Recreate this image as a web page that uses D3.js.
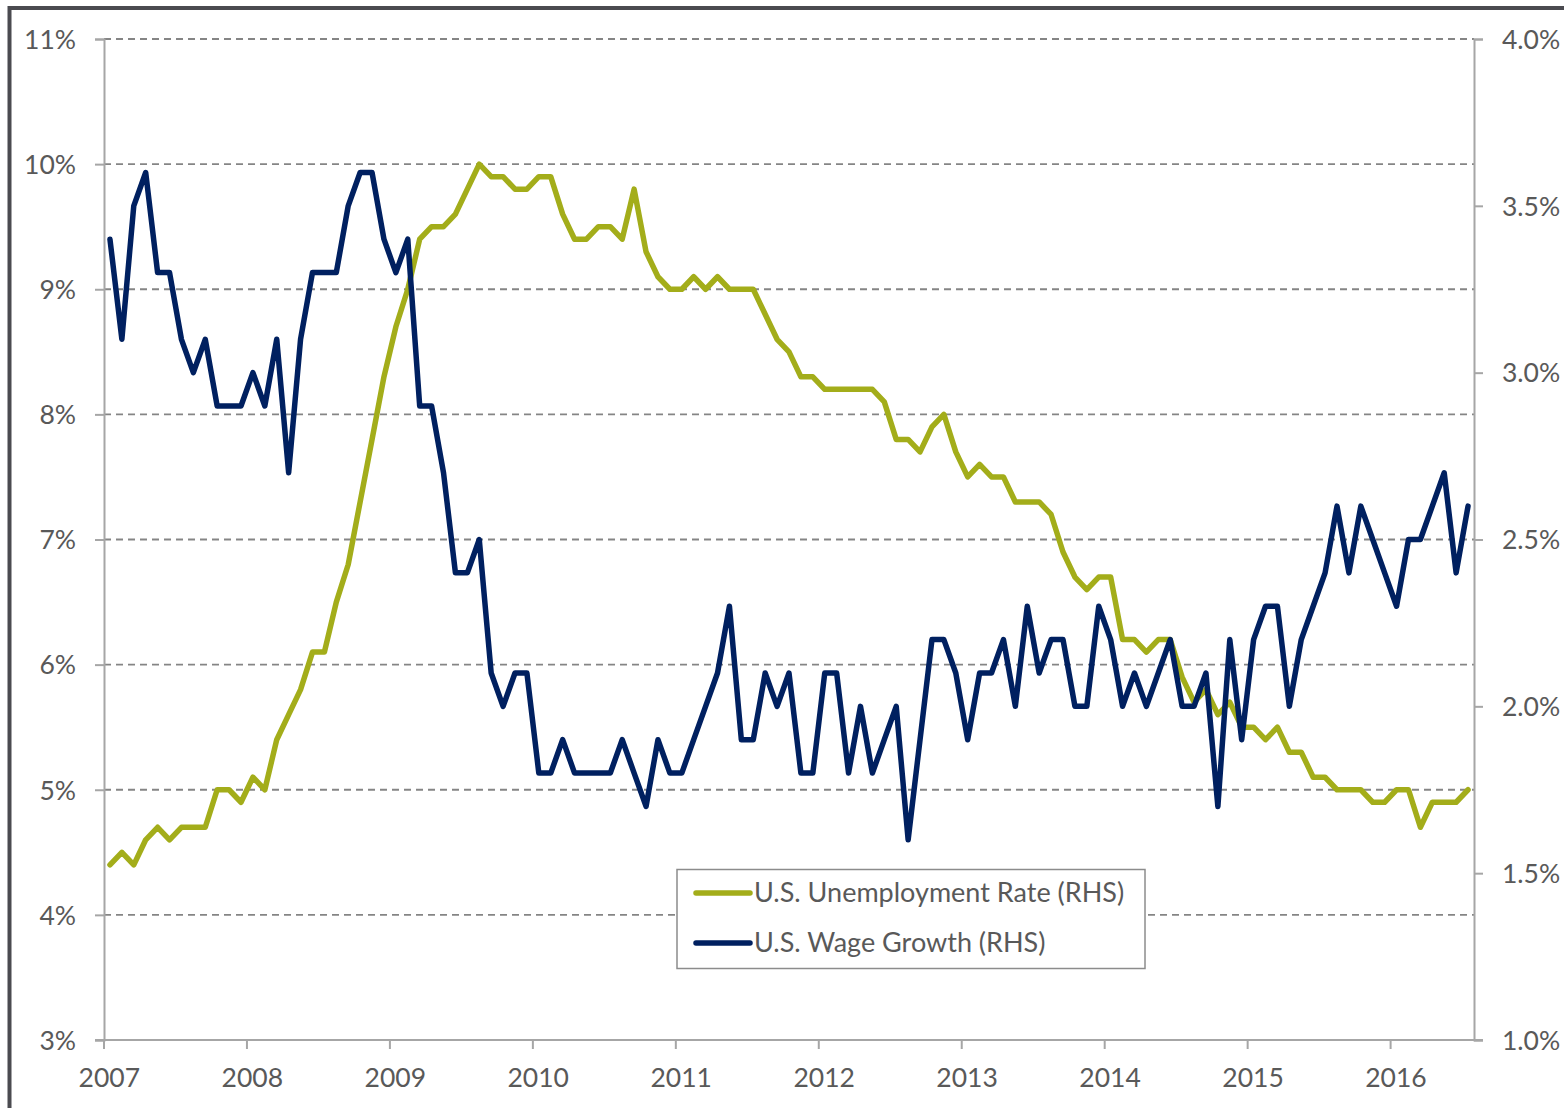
<!DOCTYPE html>
<html>
<head>
<meta charset="utf-8">
<script src="https://cdn.jsdelivr.net/npm/d3@7"></script>
<style>
  body { margin: 0; background: #fff; }
  svg { display: block; }
  text { font-family: Lato, "Open Sans", sans-serif; fill: #595959; }
</style>
</head>
<body>
<svg width="1564" height="1108"></svg>
<script>
// year labels under the x axis, one every 12 months
const years = ['2007', '2008', '2009', '2010', '2011', '2012', '2013', '2014', '2015', '2016']

// monthly series, 115 points each
const unemployment = [
  4.4, 4.5, 4.4, 4.6, 4.7, 4.6, 4.7, 4.7, 4.7, 5.0, 5.0, 4.9,
  5.1, 5.0, 5.4, 5.6, 5.8, 6.1, 6.1, 6.5, 6.8, 7.3, 7.8, 8.3,
  8.7, 9.0, 9.4, 9.5, 9.5, 9.6, 9.8, 10.0, 9.9, 9.9, 9.8, 9.8,
  9.9, 9.9, 9.6, 9.4, 9.4, 9.5, 9.5, 9.4, 9.8, 9.3, 9.1, 9.0,
  9.0, 9.1, 9.0, 9.1, 9.0, 9.0, 9.0, 8.8, 8.6, 8.5, 8.3, 8.3,
  8.2, 8.2, 8.2, 8.2, 8.2, 8.1, 7.8, 7.8, 7.7, 7.9, 8.0, 7.7,
  7.5, 7.6, 7.5, 7.5, 7.3, 7.3, 7.3, 7.2, 6.9, 6.7, 6.6, 6.7,
  6.7, 6.2, 6.2, 6.1, 6.2, 6.2, 5.9, 5.7, 5.8, 5.6, 5.7, 5.5,
  5.5, 5.4, 5.5, 5.3, 5.3, 5.1, 5.1, 5.0, 5.0, 5.0, 4.9, 4.9,
  5.0, 5.0, 4.7, 4.9, 4.9, 4.9, 5.0
]
const wageGrowth = [
  3.4, 3.1, 3.5, 3.6, 3.3, 3.3, 3.1, 3.0, 3.1, 2.9, 2.9, 2.9,
  3.0, 2.9, 3.1, 2.7, 3.1, 3.3, 3.3, 3.3, 3.5, 3.6, 3.6, 3.4,
  3.3, 3.4, 2.9, 2.9, 2.7, 2.4, 2.4, 2.5, 2.1, 2.0, 2.1, 2.1,
  1.8, 1.8, 1.9, 1.8, 1.8, 1.8, 1.8, 1.9, 1.8, 1.7, 1.9, 1.8,
  1.8, 1.9, 2.0, 2.1, 2.3, 1.9, 1.9, 2.1, 2.0, 2.1, 1.8, 1.8,
  2.1, 2.1, 1.8, 2.0, 1.8, 1.9, 2.0, 1.6, 1.9, 2.2, 2.2, 2.1,
  1.9, 2.1, 2.1, 2.2, 2.0, 2.3, 2.1, 2.2, 2.2, 2.0, 2.0, 2.3,
  2.2, 2.0, 2.1, 2.0, 2.1, 2.2, 2.0, 2.0, 2.1, 1.7, 2.2, 1.9,
  2.2, 2.3, 2.3, 2.0, 2.2, 2.3, 2.4, 2.6, 2.4, 2.6, 2.5, 2.4,
  2.3, 2.5, 2.5, 2.6, 2.7, 2.4, 2.6
]

// axis ticks
const leftTicks = [3, 4, 5, 6, 7, 8, 9, 10, 11]
const rightTicks = [1.0, 1.5, 2.0, 2.5, 3.0, 3.5, 4.0]

const legendItems = [
  { name: 'U.S. Unemployment Rate (RHS)', color: '#a3ad1a' },
  { name: 'U.S. Wage Growth (RHS)', color: '#002060' }
]

// plot box
const plotLeft = 104, plotRight = 1474, plotTop = 39, plotBottom = 1040
const axisGrey = '#a6a6a6'
const tickFont = '26.5px'

const svg = d3.select('svg')

// outer frame (only top and left edge are inside the picture)
svg.append('rect')
  .attr('x', 9.5).attr('y', 8)
  .attr('width', 1700).attr('height', 1300)
  .attr('fill', 'none')
  .attr('stroke', '#4b4b50')
  .attr('stroke-width', 4)

// scales
const x = d3.scaleLinear().domain([0, unemployment.length]).range([plotLeft, plotRight])
const yLeft = d3.scaleLinear().domain([3, 11]).range([plotBottom, plotTop])
const yRight = d3.scaleLinear().domain([1, 4]).range([plotBottom, plotTop])

// dashed gridlines
svg.append('g')
  .selectAll('line')
  .data(leftTicks.slice(1))
  .join('line')
    .attr('x1', plotLeft).attr('x2', plotRight)
    .attr('y1', d => yLeft(d)).attr('y2', d => yLeft(d))
    .attr('stroke', '#858585')
    .attr('stroke-width', 1.8)
    .attr('stroke-dasharray', '7,5')

// left axis
const leftAxis = svg.append('g')
  .attr('transform', `translate(${plotLeft},0)`)
  .call(d3.axisLeft(yLeft).tickValues(leftTicks).tickSize(9).tickPadding(0).tickFormat(d => d + '%'))
leftAxis.select('.domain').attr('stroke', axisGrey).attr('stroke-width', 2)
leftAxis.selectAll('.tick line').attr('stroke', axisGrey).attr('stroke-width', 2)
leftAxis.selectAll('.tick text')
  .attr('x', 76 - plotLeft)
  .attr('dy', '0.35em')
  .style('font-size', tickFont)
  .attr('fill', '#595959')

// right axis
const rightAxis = svg.append('g')
  .attr('transform', `translate(${plotRight},0)`)
  .call(d3.axisRight(yRight).tickValues(rightTicks).tickSize(9).tickPadding(0).tickFormat(d => d3.format('.1f')(d) + '%'))
rightAxis.select('.domain').attr('stroke', axisGrey).attr('stroke-width', 2)
rightAxis.selectAll('.tick line').attr('stroke', axisGrey).attr('stroke-width', 2)
rightAxis.selectAll('.tick text')
  .attr('x', 1502 - plotRight)
  .attr('dy', '0.35em')
  .style('font-size', tickFont)
  .attr('fill', '#595959')

// bottom axis
svg.append('line')
  .attr('x1', plotLeft - 9).attr('x2', plotRight + 9)
  .attr('y1', plotBottom).attr('y2', plotBottom)
  .attr('stroke', axisGrey).attr('stroke-width', 2)

const xTicks = years.map((d, i) => i * 12)
svg.append('g')
  .selectAll('line')
  .data(xTicks)
  .join('line')
    .attr('x1', d => x(d)).attr('x2', d => x(d))
    .attr('y1', plotBottom).attr('y2', plotBottom + 9)
    .attr('stroke', axisGrey).attr('stroke-width', 2)

svg.append('g')
  .selectAll('text')
  .data(years)
  .join('text')
    .attr('x', (d, i) => x(i * 12 + 0.45))
    .attr('y', 1087)
    .attr('text-anchor', 'middle')
    .style('font-size', tickFont)
    .text(d => d)

// lines (points sit in the middle of each month)
const lineLeft = d3.line().x((d, i) => x(i + 0.5)).y(d => yLeft(d))
const lineRight = d3.line().x((d, i) => x(i + 0.5)).y(d => yRight(d))

svg.append('path')
  .datum(unemployment)
  .attr('d', lineLeft)
  .attr('fill', 'none')
  .attr('stroke', legendItems[0].color)
  .attr('stroke-width', 5.5)
  .attr('stroke-linejoin', 'round')
  .attr('stroke-linecap', 'round')

svg.append('path')
  .datum(wageGrowth)
  .attr('d', lineRight)
  .attr('fill', 'none')
  .attr('stroke', legendItems[1].color)
  .attr('stroke-width', 5.5)
  .attr('stroke-linejoin', 'round')
  .attr('stroke-linecap', 'round')

// legend
const legend = svg.append('g')
legend.append('rect')
  .attr('x', 677).attr('y', 869.5)
  .attr('width', 468).attr('height', 99)
  .attr('fill', '#fff')
  .attr('stroke', '#8c8c8c')
  .attr('stroke-width', 1.5)

const rows = legend.selectAll('g.row')
  .data(legendItems)
  .join('g')
    .attr('class', 'row')
    .attr('transform', (d, i) => `translate(0,${893 + i * 50})`)

rows.append('line')
  .attr('x1', 696).attr('x2', 750)
  .attr('stroke', d => d.color)
  .attr('stroke-width', 5.5)
  .attr('stroke-linecap', 'round')

rows.append('text')
  .attr('x', 754)
  .attr('dy', '0.35em')
  .style('font-size', '27px')
  .text(d => d.name)
</script>
</body>
</html>
